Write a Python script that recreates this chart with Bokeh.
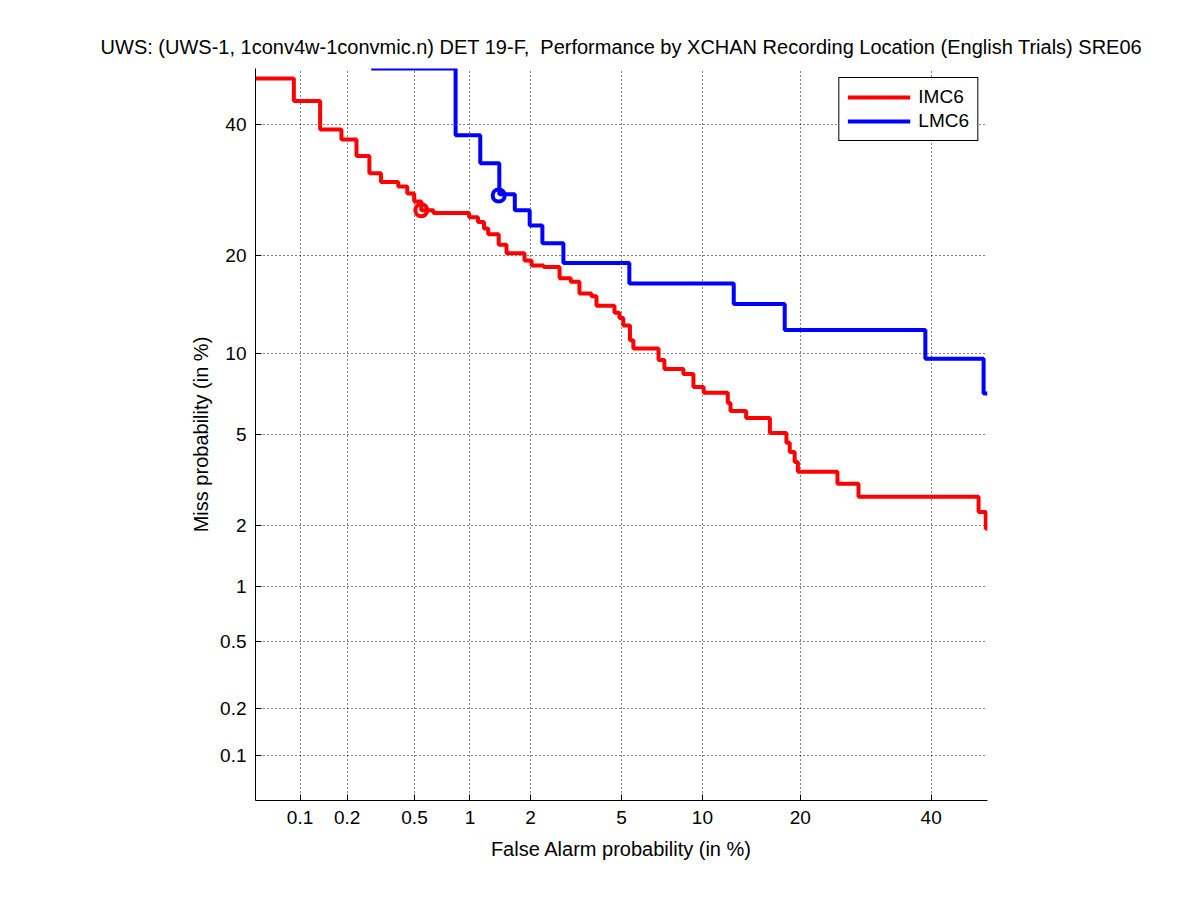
from statistics import NormalDist
import numpy as np
from bokeh.plotting import figure
from bokeh.models import Range1d, FixedTicker
from bokeh.embed import file_html
from bokeh.resources import INLINE

# ---------------- data (percent) ----------------
tick_pct = [0.1, 0.2, 0.5, 1, 2, 5, 10, 20, 40]
tick_labels = ["0.1", "0.2", "0.5", "1", "2", "5", "10", "20", "40"]
axis_min_pct = 0.05
axis_max_pct = 50.0

# IMC6: false-alarm % where each step starts, and miss % level of that step
imc6_fa = [0.05, 0.091, 0.135, 0.184, 0.228, 0.273, 0.32, 0.404, 0.455, 0.498,
           0.546, 0.637, 0.99, 1.10, 1.18, 1.24, 1.40, 1.53, 1.87, 2.02,
           2.30, 2.72, 3.05, 3.33, 3.75, 3.94, 4.68, 4.90, 5.08, 5.40,
           5.57, 6.96, 7.32, 8.58, 9.31, 10.1, 12.15, 12.4, 13.9, 16.4,
           18.3, 18.7, 19.3, 19.7, 25.0, 28.1, 48.4, 49.7]
imc6_miss = [48.2, 44.2, 39.2, 37.5, 34.7, 31.9, 30.5, 29.8, 28.7, 27.5,
             26.2, 25.8, 25.2, 24.5, 23.6, 22.8, 21.4, 20.3, 19.4, 18.8,
             18.6, 17.3, 16.9, 15.6, 15.3, 14.3, 13.6, 13.1, 12.4, 11.1,
             10.4, 9.5, 8.83, 8.49, 7.61, 7.25, 6.63, 6.18, 5.81, 5.07,
             4.62, 4.24, 3.85, 3.49, 3.10, 2.71, 2.31, 1.93]

lmc6_fa = [0.28, 0.84, 1.13, 1.41, 1.68, 1.98, 2.27, 2.83, 5.37, 12.7, 18.1, 39.0, 49.3]
lmc6_miss = [50.0, 38.2, 33.5, 28.6, 26.2, 24.0, 21.6, 19.1, 16.7, 14.5, 12.0, 9.6, 7.2]

# operating points (circles)
imc6_point = (0.546, 26.2)
lmc6_point = (1.40, 28.4)

series_names = ["IMC6", "LMC6"]
series_colors = ["#ff0000", "#0000ff"]

# ---------------- helpers ----------------
nd = NormalDist()


def probit(pct):
    arr = np.atleast_1d(np.asarray(pct, dtype=float))
    return np.array([nd.inv_cdf(min(max(v / 100.0, 1e-9), 1 - 1e-9)) for v in arr])


def staircase(fa, miss, end):
    xs, ys = [], []
    for i in range(len(fa)):
        x1 = fa[i + 1] if i + 1 < len(fa) else end
        xs += [fa[i], x1]
        ys += [miss[i], miss[i]]
    return xs, ys


FONT = "Liberation Sans"
lo = float(probit(axis_min_pct)[0])
hi = float(probit(axis_max_pct)[0])

p = figure(
    width=1193, height=892,
    frame_width=732, frame_height=732,
    min_border_left=255, min_border_right=206,
    min_border_top=68, min_border_bottom=92,
    x_range=Range1d(lo, hi), y_range=Range1d(lo, hi),
    output_backend="svg", toolbar_location=None,
    title="UWS: (UWS-1, 1conv4w-1convmic.n) DET 19-F,\u00a0 Performance by XCHAN Recording Location (English Trials) SRE06",
)
p.outline_line_color = None
p.background_fill_color = "white"
p.border_fill_color = "white"

p.title.align = "center"
p.title.text_font = FONT
p.title.text_font_size = "20px"
p.title.text_font_style = "normal"
p.title.text_color = "black"
p.title.standoff = 21

tick_pos = [float(v) for v in probit(tick_pct)]
overrides = {t: lab for t, lab in zip(tick_pos, tick_labels)}

for ax in (p.xaxis[0], p.yaxis[0]):
    ax.ticker = FixedTicker(ticks=tick_pos)
    ax.major_label_overrides = overrides
    ax.major_tick_in = 6
    ax.major_tick_out = 0
    ax.minor_tick_in = 0
    ax.minor_tick_out = 0
    ax.axis_line_color = "black"
    ax.major_tick_line_color = "black"
    ax.major_label_text_font = FONT
    ax.major_label_text_font_size = "19px"
    ax.major_label_text_color = "black"
    ax.axis_label_text_font = FONT
    ax.axis_label_text_font_size = "20px"
    ax.axis_label_text_font_style = "normal"
    ax.axis_label_text_color = "black"

p.xaxis.axis_label = "False Alarm probability (in %)"
p.yaxis.axis_label = "Miss probability (in %)"
p.xaxis.major_label_standoff = 10
p.yaxis.major_label_standoff = 9
p.xaxis.axis_label_standoff = 11
p.yaxis.axis_label_standoff = 5

for g in (p.xgrid[0], p.ygrid[0]):
    g.ticker = FixedTicker(ticks=tick_pos)
    g.grid_line_color = "black"
    g.grid_line_dash = "1 3"
    g.grid_line_width = 1
    g.grid_line_alpha = 1.0

curves = [(imc6_fa, imc6_miss, imc6_point), (lmc6_fa, lmc6_miss, lmc6_point)]
for (fa, miss, pt), name, col in zip(curves, series_names, series_colors):
    xs, ys = staircase(fa, miss, axis_max_pct)
    p.line(probit(xs), probit(ys), line_color=col, line_width=4, legend_label=name)
    p.scatter(probit([pt[0]]), probit([pt[1]]), marker="circle", size=12,
              fill_color=None, line_color=col, line_width=4)

lg = p.legend[0]
lg.location = "top_right"
lg.margin = 9
lg.border_line_color = "black"
lg.border_line_width = 1
lg.border_line_alpha = 1.0
lg.background_fill_color = "white"
lg.background_fill_alpha = 1.0
lg.padding = 8
lg.spacing = 2
lg.glyph_width = 63
lg.glyph_height = 20
lg.label_height = 20
lg.label_standoff = 8
lg.label_text_font = FONT
lg.label_text_font_size = "19px"
lg.label_text_color = "black"

open("out.html", "w").write(file_html(p, INLINE))
